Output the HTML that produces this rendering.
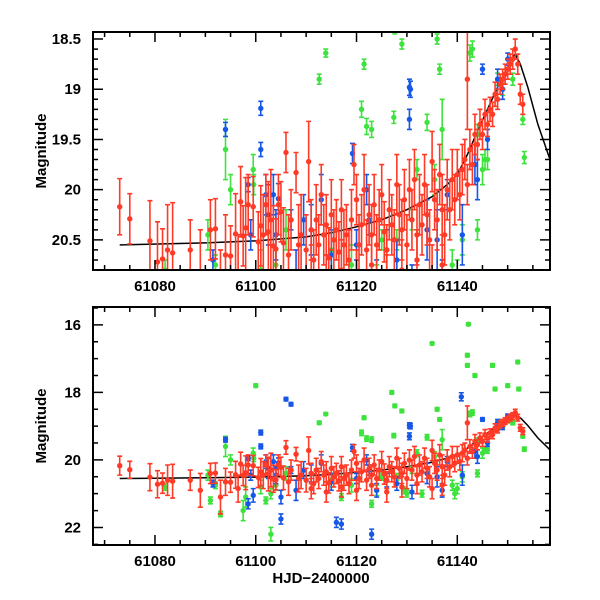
<!DOCTYPE html>
<html><head><meta charset="utf-8"><style>
html,body{margin:0;padding:0;background:#fff}
svg{display:block}
text{font-family:"Liberation Sans",Arial,sans-serif;font-size:15px;font-weight:bold;fill:#000}
</style></head><body>
<svg id="chart" width="600" height="600" viewBox="0 0 600 600" xmlns="http://www.w3.org/2000/svg">
<defs>
<clipPath id="clipTop"><rect x="93" y="32" width="457" height="238"/></clipPath>
<clipPath id="clipBot"><rect x="93" y="307" width="457" height="238"/></clipPath>
</defs>
</svg>
<script>
// ---- data ----
const redSeries = [[61073,20.17,.28],[61075,20.29,.25],[61079,20.51,.4],[61080.5,20.72,.4],[61081.5,20.69,.3],[61082.5,20.6,.45],[61083.5,20.63,.5],[61087,20.6,.3],[61089,20.9,.5],[61091,20.4,.3],[61092,20.39,.3],[61093,21.1,.5],[61094,20.65,.4],[61095,20.66,.3],[61096,20.44,.4],[61096.5,20.85,.4],[61097,20.12,.35],[61097.5,20.46,.3],[61098,20.38,.5],[61098.5,20.15,.3],[61099.5,20.17,.3],[61100.5,20.52,.3],[61101,20.36,.4],[61101.5,20.45,.4],[61102,20.15,.3],[61102.5,20.42,.5],[61103,20.3,.5],[61103.5,20.56,.4],[61104,20.59,.3],[61104.5,20.15,.3],[61105,20.22,.3],[61105.5,20.53,.35],[61106,19.63,.2],[61106.5,20.65,.4],[61107,20.3,.3],[61108,19.83,.2],[61108.5,20.55,.4],[61109,20.45,.4],
[61110,20.6,.35],[61110.5,19.72,.4],[61111,20.4,.3],[61111.5,20.7,.3],[61112,20.3,.35],[61112.5,20.55,.3],[61113,20.05,.3],[61113.5,20.45,.3],[61114,20.35,.3],[61114.5,20.68,.3],[61115,20.25,.35],[61115.5,20.5,.3],[61116,20.4,.3],[61116.5,20.62,.3],[61117,20.2,.3],[61117.5,20.55,.35],[61118,20.45,.3],[61118.5,20.7,.3],[61119,20.3,.3],[61119.5,19.75,.2],[61120,20.1,.25],[61120.5,20.55,.3],[61121,20.35,.3],[61121.5,20.0,.35],[61122,20.6,.3],[61122.5,20.25,.3],[61123,20.45,.3],[61123.5,20.15,.3],[61124,20.55,.3],[61124.5,20.3,.3],[61125,20.05,.3],[61125.5,20.42,.3],[61126,20.6,.25],[61126.5,20.2,.3],[61127,20.35,.3],[61127.5,20.5,.3],[61128,19.95,.3],[61128.5,20.25,.3],[61129,20.4,.3],[61129.5,20.1,.3],[61130,20.55,.3],[61130.5,20.0,.3],[61131,20.3,.3],[61131.5,19.9,.3],[61132,20.45,.3],[61132.5,20.15,.3],[61133,20.35,.3],[61133.5,19.95,.3],[61134,20.25,.3],[61134.5,20.5,.3],[61135,19.72,.3],[61135.5,20.1,.3],[61136,20.3,.3],[61136.5,19.85,.3],[61137,20.2,.35],[61137.5,20.45,.3],[61138,20.0,.3],[61138.5,20.2,.3],[61139,19.9,.3],[61139.5,20.1,.25],[61140,19.85,.25],[61140.5,20.05,.25],[61141,19.8,.25],[61141.5,19.7,.2],[61142,19.95,.2],[61142,18.9,.5],[61142.5,19.6,.2],[61143,19.75,.2],[61143.5,19.45,.2],[61144,19.55,.15],[61144.5,19.35,.15],[61145,19.45,.15],[61145.5,19.25,.15],[61146,19.35,.12],[61146.5,19.2,.12],[61147,19.25,.12],[61147.5,19.05,.12],[61148,19.1,.1],[61148.5,18.95,.1],[61149,18.9,.1],[61149.5,18.85,.1],[61150,18.8,.1],[61150.5,18.75,.1],[61151,18.7,.1],[61151.5,18.6,.1],[61152,18.75,.1],[61152.5,19.05,.1],[61153,19.15,.1],
[61111,20.85,.3],[61114,20.95,.3],[61117,20.8,.3],[61120,20.9,.3],[61123,20.75,.3],[61126,20.95,.3],[61129,20.8,.3],[61132,20.7,.3],[61135,20.85,.3],[61137,20.75,.3]];
const blueSeries = [[61091.5,20.7,.1],[61094,19.4,.07],[61098.5,19.95,.07],[61098.5,21.3,.15],[61099,20.45,.15],[61099.5,21.05,.2],[61101,19.19,.07],[61101,19.6,.07],[61102,20.05,.2],[61102.5,20.25,.3],[61103.5,20.05,.2],[61104,20.45,.25],[61104.5,20.09,.15],[61105,21.1,.2],[61105,21.75,.15],[61106,18.2,.05],[61107,18.35,.05],[61107,20.3,.1],[61108,20.9,.3],[61109.5,20.3,.25],[61111,20.4,.25],[61113,20.1,.25],[61115,20.65,.25],[61116,21.85,.15],[61117,21.9,.15],[61119.2,19.64,.1],[61120,20.55,.15],[61122,20.0,.15],[61122.5,20.3,.15],[61123,22.2,.15],[61124,20.9,.2],[61126,20.6,.2],[61128,20.7,.2],[61130.5,18.98,.08],[61130.7,19.0,.08],[61130.5,19.3,.1],[61131,20.95,.2],[61134,20.4,.3],[61136,20.5,.3],[61137,20.9,.2],[61138,20.05,.15],[61140.8,18.13,.12],[61141,20.45,.3],[61143.5,19.75,.2],[61144,19.9,.2],[61145,18.8,.05],[61146,19.5,.1],[61148,18.9,.1],[61149,19.0,.1],[61150,18.7,.06]];
const greenSeries = [[61082,20.8,.1],[61090.5,20.45,.15],[61091,21.2,.1],[61092,20.75,.1],[61093,21.6,.08],[61094,19.6,.3],[61095,20.0,.15],[61097.5,21.5,.3],[61098,21.1,.3],[61099.5,19.8,.15],[61099.6,19.95,.1],[61100,17.8,.05],[61101,20.8,.2],[61102,21.2,.1],[61103,22.2,.2],[61103,21.0,.15],[61104,20.75,.15],[61106,20.4,.2],[61112.6,18.9,.05],[61113.9,18.64,.04],[61115,20.6,.2],[61117,21.1,.1],[61119,20.75,.2],[61121,19.2,.08],[61121.5,18.75,.05],[61122,19.37,.08],[61123,19.4,.08],[61123,21.3,.1],[61124,20.9,.15],[61125,20.5,.1],[61127,18.0,.05],[61127.4,19.28,.06],[61127.6,18.4,.05],[61128,20.5,.1],[61129,18.55,.05],[61129.5,20.9,.1],[61130,21.0,.1],[61131,20.3,.1],[61132,19.8,.1],[61133,21.0,.1],[61134,19.33,.08],[61135,16.55,.04],[61135.5,19.9,.15],[61136,18.5,.05],[61136.5,18.8,.05],[61137,19.4,.3],[61139,20.75,.15],[61139.5,21.0,.15],[61140,20.85,.15],[61141,20.5,.15],[61142,16.9,.05],[61142,17.2,.05],[61142.2,15.98,.04],[61142.5,18.64,.08],[61143,18.6,.08],[61143.5,17.5,.05],[61144,19.45,.1],[61144,20.4,.1],[61145,19.8,.15],[61145.5,19.7,.1],[61146,19.7,.1],[61147,17.2,.05],[61147.5,17.9,.05],[61148,18.9,.06],[61149,19.0,.06],[61150,17.8,.05],[61151,18.9,.06],[61152,17.1,.05],[61152.2,17.9,.05],[61153,19.3,.05],[61153.3,19.68,.06]];
const modelX = [61073,61090,61100,61110,61115,61120,61125,61130,61135,61138,61140,61142,61144,61146,61148,61150,61151,61151.5,61152.5,61154,61156,61158.4];
const modelY = [20.55,20.53,20.51,20.47,20.43,20.37,20.3,20.2,20.07,19.95,19.85,19.65,19.42,19.2,18.98,18.78,18.68,18.65,18.75,18.98,19.35,19.7];
const xTickLabels = [61080,61100,61120,61140];
const topYTickLabels = [18.5,19,19.5,20,20.5];
const botYTickLabels = [16,18,20,22];

const NS='http://www.w3.org/2000/svg';
const svg=document.getElementById('chart');
const X0=93,X1=550,XMIN=61067.7,XMAX=61158.4;
function xs(v){return X0+(v-XMIN)/(XMAX-XMIN)*(X1-X0);}
const panels=[
 {name:'top',y0:32,y1:270,ymin:18.43,ymax:20.8,clip:'clipTop',labels:topYTickLabels,minor:0.1},
 {name:'bottom',y0:307,y1:545,ymin:15.47,ymax:22.52,clip:'clipBot',labels:botYTickLabels,minor:0.5}
];
function mk(tag,attrs,parent){const e=document.createElementNS(NS,tag);for(const k in attrs)e.setAttribute(k,attrs[k]);(parent||svg).appendChild(e);return e;}
const colors={red:'#ff3a26',blue:'#1657e8',green:'#3de33d'};

panels.forEach(p=>{
 const ys=v=>p.y0+(v-p.ymin)/(p.ymax-p.ymin)*(p.y1-p.y0);
 const g=mk('g',{});
 
 
 const data=mk('g',{'clip-path':'url(#'+p.clip+')'},g);
 
 
 let d='';
 for(let i=0;i<modelX.length;i++){d+=(i?'L':'M')+xs(modelX[i]).toFixed(1)+','+ys(modelY[i]).toFixed(1);}
 const m=mk('path',{d:d,fill:'none',stroke:'#000','stroke-width':1.5},data);
 
 
 [['green',greenSeries],['blue',blueSeries],['red',redSeries]].forEach(([c,arr])=>{
  const sg=mk('g',{stroke:colors[c],fill:colors[c]},data);
  
  
  arr.forEach(pt=>{
   const x=xs(pt[0]),y=ys(pt[1]),ya=ys(pt[1]-pt[2]),yb=ys(pt[1]+pt[2]);
   const pg=mk('g',{},sg);
   
   
   mk('path',{d:`M${x},${ya}V${yb}M${x-2.5},${ya}h5M${x-2.5},${yb}h5`,'stroke-width':1.6,fill:'none'},pg);
   mk('circle',{cx:x,cy:y,r:2.7,stroke:'none'},pg);
  });
 });
 const fr=mk('rect',{x:X0,y:p.y0,width:X1-X0,height:p.y1-p.y0,fill:'none',stroke:'#000','stroke-width':2},g);
 
 
 let td='';
 for(let v=61070;v<=XMAX;v+=5){const x=xs(v);const L=(v%20===0)?10:5;td+=`M${x},${p.y1}v${-L}M${x},${p.y0}v${L}`;}
 const n=Math.round((p.ymax-p.ymin)/p.minor)+2;
 const start=Math.ceil(p.ymin/p.minor)*p.minor;
 for(let i=0;i<n;i++){const v=+(start+i*p.minor).toFixed(2);if(v>p.ymax)break;const y=ys(v);const major=p.labels.some(l=>Math.abs(l-v)<1e-6);const L=major?10:5;td+=`M${X0},${y}h${L}M${X1},${y}h${-L}`;}
 const t=mk('path',{d:td,stroke:'#000','stroke-width':1.5,fill:'none'},g);
 
 
 xTickLabels.forEach(v=>{
  const tx=mk('text',{x:xs(v),y:p.y1+21,'text-anchor':'middle'},g);tx.textContent=v;
  
  
 });
 p.labels.forEach(v=>{
  const tx=mk('text',{x:X0-12,y:ys(v)+5,'text-anchor':'end'},g);tx.textContent=v;
  
  
 });
 const yt=mk('text',{x:0,y:0,'text-anchor':'middle',transform:`translate(46,${(p.y0+p.y1)/2}) rotate(-90)`},g);
 yt.textContent='Magnitude';
 
 
});
const xt=mk('text',{x:321,y:583,'text-anchor':'middle'});
xt.textContent='HJD\u22122400000';


</script>
</body></html>
